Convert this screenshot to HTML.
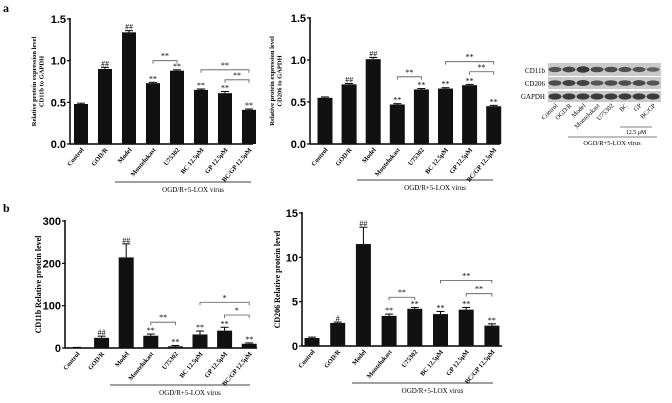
<!DOCTYPE html>
<html><head><meta charset="utf-8"><style>
body{margin:0;background:#fff;}
svg{display:block;font-family:"Liberation Serif",serif;}
.tk{font-family:"Liberation Sans",sans-serif;font-weight:bold;font-size:11px;}
</style></head><body>
<svg id="s" width="672" height="403">
<text x="3" y="12" font-weight="bold" font-size="12">a</text>
<text x="3" y="212" font-weight="bold" font-size="12">b</text>
<g>
<rect x="548" y="63" width="113" height="13" fill="#c9c9c9"/>
<rect x="548" y="77" width="113" height="12" fill="#c9c9c9"/>
<rect x="548" y="91" width="113" height="11" fill="#c9c9c9"/>
<text x="545" y="73" font-size="7" text-anchor="end">CD11b</text>
<text x="545" y="86" font-size="7" text-anchor="end">CD206</text>
<text x="545" y="99" font-size="7" text-anchor="end">GAPDH</text>
<line x1="620" y1="127" x2="652" y2="127" stroke="#000" stroke-width="0.6"/>
<text x="636" y="134" font-size="6" text-anchor="middle">12.5 μM</text>
<line x1="568" y1="137" x2="657" y2="137" stroke="#000" stroke-width="0.6"/>
<text x="612" y="145" font-size="6.5" text-anchor="middle">OGD/R+5-LOX virus</text>
</g>
</svg>
<script>
const cats=["Control","GOD/R","Model","Montelukast","U75302","BC 12.5μM","GP 12.5μM","BC/GP 12.5μM"];
const a1Vals=[0.48,0.90,1.34,0.73,0.88,0.65,0.61,0.41];
const a1Err=[0.01,0.02,0.02,0.01,0.01,0.01,0.02,0.01];
const a1Marks=["","##","##","**","**","**","**","**"];
const a2Vals=[0.55,0.71,1.01,0.47,0.65,0.66,0.70,0.45];
const a2Err=[0.01,0.01,0.02,0.01,0.01,0.01,0.01,0.01];
const a2Marks=["","##","##","**","**","**","**","**"];
const b1Vals=[1,24,214,29,4,32,41,10];
const b1Err=[0.5,4,32,4,2,8,8,2];
const b1Marks=["","##","##","**","**","**","**","**"];
const b2Vals=[0.9,2.6,11.5,3.4,4.2,3.6,4.1,2.3];
const b2Err=[0.1,0.1,1.9,0.2,0.15,0.3,0.25,0.2];
const b2Marks=["","#","##","**","**","**","**","**"];
const a1Ticks=[0,0.5,1.0,1.5],a1TickLbl=["0.0","0.5","1.0","1.5"];
const a2Ticks=[0,0.5,1.0,1.5],a2TickLbl=["0.0","0.5","1.0","1.5"];
const b1Ticks=[0,100,200,300],b1TickLbl=["0","100","200","300"];
const b2Ticks=[0,5,10,15],b2TickLbl=["0","5","10","15"];
const a1Br=[[3,4,1.0,"**"],[5,7,0.89,"**"],[6,7,0.77,"**"]];
const a2Br=[[3,4,0.80,"**"],[5,7,0.98,"**"],[6,7,0.86,"**"]];
const b1Br=[[3,4,61,"**"],[5,7,108,"*"],[6,7,78,"*"]];
const b2Br=[[3,4,5.5,"**"],[5,7,7.4,"**"],[6,7,5.9,"**"]];
const NS="http://www.w3.org/2000/svg";
const svg=document.getElementById('s');
function mk(t,a,p,txt){const e=document.createElementNS(NS,t);for(const k in a)e.setAttribute(k,a[k]);if(txt!==undefined)e.textContent=txt;p.appendChild(e);return e;}
function chart(c){
 const g=mk('g',{},svg);
 
 
 const y=v=>c.y0-(v/c.max)*(c.y0-c.y1);
 const x=i=>c.x0+c.dx*i;
 const ax=mk('line',{x1:c.ax,y1:c.y1-1,x2:c.ax,y2:c.y0,stroke:'#000','stroke-width':1.5},g);
 
 const xa=mk('line',{x1:c.ax,y1:c.y0,x2:c.xe,y2:c.y0,stroke:'#000','stroke-width':1.5},g);
 
 c.ticks.forEach((t,i)=>{
  const l=mk('line',{x1:c.ax-3,y1:y(t),x2:c.ax,y2:y(t),stroke:'#000','stroke-width':1.2},g);
  
  const tx=mk('text',{x:c.ax-4,y:y(t)+4,'text-anchor':'end',class:'tk'},g,c.tl[i]);
  
 });
 const yt=mk('text',{transform:`translate(${c.ytx},${(c.y0+c.y1)/2}) rotate(-90)`,'text-anchor':'middle','font-size':c.yfs,'font-weight':'bold'},g);
 
 c.ytitle.forEach((s,i)=>mk('tspan',{x:0,dy:i?c.yfs+1:0},yt,s));
 c.vals.forEach((v,i)=>{
  const cx=x(i),top=y(v+c.err[i]);
  const el=mk('line',{x1:cx,y1:top,x2:cx,y2:y(v),stroke:'#000','stroke-width':1},g);
  
  const cap=mk('line',{x1:cx-4,y1:top,x2:cx+4,y2:top,stroke:'#000','stroke-width':1},g);
  
  const r=mk('rect',{x:cx-c.bw/2,y:y(v),width:c.bw,height:c.y0-y(v),fill:'#111'},g);
  
  if(c.marks[i]){const m=mk('text',{x:cx,y:top-1,'text-anchor':'middle','font-size':8},g,c.marks[i]);
   }
  const lb=mk('text',{transform:`translate(${cx+3},${c.y0+6}) rotate(-50)`,'text-anchor':'end','font-size':6.5,'font-weight':'bold'},g,cats[i]);
  
 });
 c.br.forEach(b=>{
  const yy=y(b[2]),xa1=x(b[0]),xb=x(b[1]);
  const p=mk('path',{d:`M${xa1},${yy+3}V${yy}H${xb}V${yy+3}`,fill:'none',stroke:'#555','stroke-width':0.8},g);
  
  const t=mk('text',{x:(xa1+xb)/2,y:yy-2,'text-anchor':'middle','font-size':8},g,b[3]);
  
 });
 const gl=mk('line',{x1:c.gx1,y1:c.gy,x2:c.gx2,y2:c.gy,stroke:'#000','stroke-width':0.7},g);
 
 const gt=mk('text',{x:(c.gx1+c.gx2)/2+10,y:c.gy+10,'text-anchor':'middle','font-size':7},g,'OGD/R+5-LOX virus');
 
}
chart({name:'chart-a-cd11b',vals:a1Vals,err:a1Err,marks:a1Marks,ticks:a1Ticks,tl:a1TickLbl,br:a1Br,max:1.5,y0:144,y1:19,ax:70,xe:253,x0:81,dx:24,bw:14,ytx:36,yfs:6.5,ytitle:['Relative protein expression level','CD11b to GAPDH'],gx1:115,gx2:251,gy:182});
chart({name:'chart-a-cd206',vals:a2Vals,err:a2Err,marks:a2Marks,ticks:a2Ticks,tl:a2TickLbl,br:a2Br,max:1.5,y0:144,y1:18,ax:310,xe:500,x0:325,dx:24.1,bw:15,ytx:274,yfs:6.5,ytitle:['Relative protein expression level','CD206 to GAPDH'],gx1:357,gx2:493,gy:180});
chart({name:'chart-b-cd11b',vals:b1Vals,err:b1Err,marks:b1Marks,ticks:b1Ticks,tl:b1TickLbl,br:b1Br,max:300,y0:348,y1:221,ax:65,xe:257,x0:77,dx:24.6,bw:15,ytx:41,yfs:8,ytitle:['CD11b Relative protein level'],gx1:110,gx2:250,gy:385});
chart({name:'chart-b-cd206',vals:b2Vals,err:b2Err,marks:b2Marks,ticks:b2Ticks,tl:b2TickLbl,br:b2Br,max:15,y0:346,y1:213,ax:302,xe:502,x0:312,dx:25.7,bw:15,ytx:280,yfs:8,ytitle:['CD206  Relative protein level'],gx1:352,gx2:493,gy:383});
const lanes=["Control","OGD/R","Model","Montelukast","U75302","BC","GP","BC/GP"];
const cd11bInt=[0.6,0.75,0.95,0.7,0.7,0.65,0.6,0.45];
const cd206Int=[0.7,0.85,0.8,0.6,0.7,0.7,0.75,0.6];
const gapdhInt=[0.9,0.9,0.9,0.9,0.9,0.9,0.9,0.9];
[[cd11bInt,69.5],[cd206Int,83],[gapdhInt,96.5]].forEach(([arr,cy])=>{
 arr.forEach((v,i)=>{
  const e=mk('ellipse',{cx:555+i*14,cy:cy,rx:6.5,ry:1.5+v*1.8,fill:'#222','fill-opacity':0.4+v*0.5},svg);
  
  
 });
});
lanes.forEach((l,i)=>{
 const t=mk('text',{transform:`translate(${558+i*14},${106}) rotate(-45)`,'text-anchor':'end','font-size':6.5},svg,l);
 
 
});
</script>
</body></html>
